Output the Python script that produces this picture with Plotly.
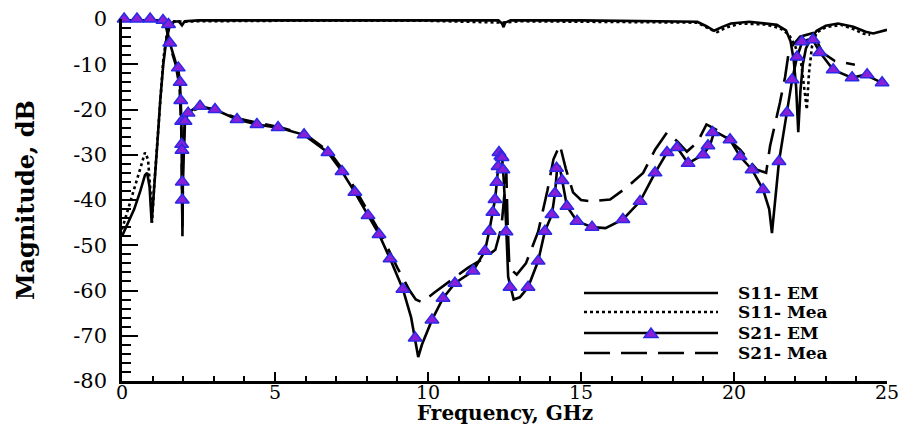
import plotly.graph_objects as go

# ---------------- data ----------------
s11_em_f = [0, 0.2, 0.4, 0.6, 0.75, 0.82, 0.9, 0.97, 1.05, 1.15, 1.25, 1.35, 1.45, 1.55, 1.7, 1.85,
            1.96, 2.05, 2.5, 5, 8, 10, 12.3, 12.42, 12.47, 12.52, 12.7, 15, 18.8, 19.1, 19.35, 19.6,
            19.9, 20.5, 21.0, 21.4, 21.7, 21.85, 21.95, 22.03, 22.1, 22.17, 22.25, 22.35, 22.5, 22.7,
            23.0, 23.4, 23.9, 24.3, 24.55, 24.8, 25.0]
s11_em_db = [-48, -45, -42, -38, -34.5, -34, -37, -45, -38, -28, -18, -10, -4.5, -1.8, -0.6, -0.5,
             -1.4, -0.5, -0.3, -0.3, -0.3, -0.3, -0.3, -1.0, -1.8, -0.8, -0.3, -0.3, -0.6, -1.6, -2.6, -1.8,
             -1.0, -0.6, -0.9, -1.3, -2.5, -5, -9, -15, -25, -16, -10, -6.5, -4.5, -2.6,
             -1.5, -1.0, -1.7, -2.8, -3.2, -2.7, -2.4]

s11_mea_f = [0, 0.2, 0.4, 0.6, 0.75, 0.85, 0.93, 0.98, 1.05, 1.15, 1.25, 1.35, 1.45, 1.55, 1.7, 2.0,
             2.5, 5, 10, 12.45, 13, 18.8, 19.2, 19.45, 19.7, 20.2, 21.0, 21.5, 21.8, 22.0, 22.2, 22.3,
             22.38, 22.45, 22.55, 22.7, 23.0, 23.5, 23.9, 24.2, 24.45]
s11_mea_db = [-46.5, -42, -38, -33, -29.5, -31, -38, -45, -37, -27, -17, -9, -4, -1.5, -0.5, -0.6,
              -0.5, -0.4, -0.4, -0.8, -0.5, -0.8, -2.2, -2.9, -2.0, -1.0, -1.2, -2.0, -3.5, -6, -10, -15,
              -20, -12, -6, -3, -1.8, -1.3, -2.2, -3.2, -3.5]

s21_em_f = [0, 0.5, 1.0, 1.3, 1.45, 1.55, 1.65, 1.75, 1.84, 1.9, 1.94, 1.96, 1.975, 1.99, 2.02, 2.06,
            2.16, 2.35, 2.55, 3.04, 3.76, 4.41, 5.1, 5.95, 6.73, 7.19, 7.61, 8.04, 8.4, 8.76, 9.18,
            9.45, 9.58, 9.68, 9.8, 10.13, 10.49, 10.88, 11.47, 11.86, 12.0, 12.12, 12.19, 12.25,
            12.29, 12.33, 12.42, 12.47, 12.55, 12.62, 12.8, 13.0, 13.27, 13.6, 13.82, 14.05, 14.15,
            14.22, 14.3, 14.38, 14.54, 14.87, 15.36, 15.8, 16.37, 16.93, 17.42, 17.81, 18.14, 18.5,
            18.99, 19.22, 19.35, 19.5, 19.87, 20.2, 20.59, 20.95, 21.15, 21.24, 21.35, 21.47, 21.6,
            21.73, 21.9, 22.06, 22.22, 22.4, 22.58, 22.8, 23.24, 23.86, 24.28, 24.84, 25.0]
s21_em_db = [-0.1, -0.1, -0.2, -0.4, -1.5, -5, -7.5, -9.5, -11, -15, -22, -35, -48, -35, -27, -22.6,
             -20.8, -19.8, -19.3, -20, -22.2, -23.3, -24, -25.6, -29.5, -33.7, -38.3, -43.4, -47.6, -53, -59.7,
             -66, -70.5, -74.7, -72, -66.5, -61.7, -58.4, -55.7, -51.3, -46.9, -42.7, -39.9, -36.1,
             -32.6, -29.5, -30.6, -35, -45, -57, -62, -61.5, -59.3, -53.5, -46.9, -43.2, -38.5,
             -33, -32.5, -35.7, -41.4, -44.7, -46, -46.2, -44.3, -40.3, -34, -29.5, -28.4, -31.9,
             -30, -27.8, -25, -25.3, -26.7, -30.4, -33.3, -37.7, -42, -47.3, -40, -31.5, -26,
             -20.7, -13.4, -8.4, -5.2, -4.6, -4.6, -7.3, -11.2, -13, -12.3, -14.1, -14.5]

s21_em_mark_f = [0.07, 0.49, 0.92, 1.34, 1.52, 1.56, 1.84, 1.9, 1.92, 1.95, 1.95, 1.96, 1.97, 1.97,
                 2.06, 2.16, 2.55, 3.04, 3.76, 4.41, 5.1, 5.95, 6.73, 7.19, 7.61, 8.04, 8.4, 8.76,
                 9.18, 9.58, 10.13, 10.49, 10.88, 11.47, 11.86, 12.0, 12.12, 12.19, 12.25, 12.29,
                 12.32, 12.38, 12.42, 12.45, 12.55, 12.68, 13.27, 13.6, 13.82, 14.05, 14.15, 14.2,
                 14.38, 14.54, 14.87, 15.36, 16.37, 16.93, 17.42, 17.81, 18.14, 18.5, 18.99, 19.15,
                 19.3, 19.87, 20.2, 20.59, 20.95, 21.47, 21.73, 21.9, 22.06, 22.22, 22.58, 22.8,
                 23.24, 23.86, 24.35, 24.84]
s21_em_mark_db = [0, 0, 0, -0.3, -1.2, -5.3, -10.8, -14, -18, -22.6, -27.7, -29, -36, -40,
                  -22.6, -20.8, -19.3, -20, -22.2, -23.3, -24, -25.6, -29.5, -33.7, -38.3, -43.4, -47.6, -53,
                  -59.7, -70.5, -66.5, -61.7, -58.4, -55.7, -51.3, -46.9, -42.7, -39.9, -36.1, -32.6,
                  -29.5, -30.3, -30.6, -33.3, -47, -59.3, -59.3, -53.5, -46.9, -43.2, -38.5, -33,
                  -35.7, -41.4, -44.7, -46, -44.3, -40.3, -34, -29.5, -28.4, -31.9, -30, -28,
                  -25.1, -26.7, -30.4, -33.3, -37.7, -31.5, -20.7, -13.4, -8.4, -5, -4.6, -7.4,
                  -11.2, -13, -12.3, -14.1]

s21_mea_f = [0, 1.3, 1.45, 1.55, 1.75, 1.88, 1.94, 1.975, 2.0, 2.05, 2.2, 2.6, 3.0, 3.8, 4.5, 5.2,
             6.0, 6.8, 7.4, 8.0, 8.5, 9.0, 9.4, 9.6, 9.8, 10.2, 10.7, 11.3, 11.8, 12.2, 12.4, 12.5,
             12.56, 12.6, 12.66, 12.9, 13.2, 13.6, 13.9, 14.1, 14.31, 14.5, 14.74, 15.0, 15.3, 15.95,
             16.5, 17.03, 17.42, 17.81, 18.14, 18.46, 18.8, 19.1, 19.54, 20.2, 20.75, 21.05, 21.18,
             21.5, 21.67, 21.8, 22.16, 22.58, 22.9, 23.3, 23.95]
s21_mea_db = [-0.2, -0.5, -2, -5.5, -10, -15, -25, -46, -30, -23, -20.5, -19.5, -20, -22, -23, -24,
              -25.5, -29.5, -35, -42, -48, -55, -60, -62, -62.6, -60.5, -58, -55, -53, -51, -46, -38,
              -34, -45, -55, -56.5, -54, -47, -38, -31, -27.8, -33, -38.3, -40, -40.3, -39.9,
              -37.2, -34, -28.9, -25.1, -27, -29.3, -27.3, -23.3, -24.9, -28.9, -33.3, -34, -28,
              -18.5, -12.8, -6.8, -3.9, -3.1, -7.5, -9.3, -10.1]

legend_names = ["S11- EM", "S11- Mea", "S21- EM", "S21- Mea"]
x_ticks = [0, 5, 10, 15, 20, 25]
y_ticks = [-80, -70, -60, -50, -40, -30, -20, -10, 0]

# ---------------- figure ----------------
FONT = "DejaVu Serif"
LW = 2.6
MARK_FILL = "#8a1fd8"
MARK_EDGE = "#2a2ae6"

fig = go.Figure()
fig.add_trace(go.Scatter(x=s11_em_f, y=s11_em_db, mode="lines", name=legend_names[0],
                         line=dict(color="black", width=LW), showlegend=False))
fig.add_trace(go.Scatter(x=s11_mea_f, y=s11_mea_db, mode="lines", name=legend_names[1],
                         line=dict(color="black", width=LW, dash="dot"), showlegend=False))
fig.add_trace(go.Scatter(x=s21_mea_f, y=s21_mea_db, mode="lines", name=legend_names[3],
                         line=dict(color="black", width=LW, dash="26px,11px"), showlegend=False))
fig.add_trace(go.Scatter(x=s21_em_f, y=s21_em_db, mode="lines", name=legend_names[2],
                         line=dict(color="black", width=LW), showlegend=False))
fig.add_trace(go.Scatter(x=s21_em_mark_f, y=s21_em_mark_db, mode="markers", name=legend_names[2],
                         marker=dict(symbol="triangle-up", size=12, color=MARK_FILL,
                                     line=dict(color=MARK_EDGE, width=1.5)),
                         cliponaxis=False, showlegend=False))

# ---- layout geometry (body margin removed by post_script) ----
W, H = 902, 425
PLOT_L, PLOT_R, PLOT_T, PLOT_B = 122, 887, 19, 381   # target plot box in the window
L, T, R, B = PLOT_L, PLOT_T, W - PLOT_R, H - PLOT_B
pw, ph = PLOT_R - PLOT_L, PLOT_B - PLOT_T


def px(xv):
    return (xv - PLOT_L) / pw


def py(yv):
    return (PLOT_B - yv) / ph


# ---- hand-drawn legend (long line samples like the original) ----
rows_y = [293, 312, 333, 353]
dashes = ["solid", "dot", "solid", "26px,11px"]
for name, yy, dsh in zip(legend_names, rows_y, dashes):
    fig.add_shape(type="line", xref="paper", yref="paper", x0=px(584), x1=px(718),
                  y0=py(yy), y1=py(yy), line=dict(color="black", width=LW, dash=dsh))
    fig.add_annotation(xref="paper", yref="paper", x=px(736), y=py(yy), xanchor="left",
                       yanchor="middle", text=f"<b>{name}</b>", showarrow=False,
                       font=dict(family=FONT, size=17, color="black"))
# legend triangle marker
cx, cy = 651, 333
tri = (f"M {px(cx - 7)} {py(cy + 4.5)} L {px(cx + 7)} {py(cy + 4.5)} "
       f"L {px(cx)} {py(cy - 5)} Z")
fig.add_shape(type="path", xref="paper", yref="paper", path=tri,
              fillcolor=MARK_FILL, line=dict(color=MARK_EDGE, width=1.5))

# axis titles
fig.add_annotation(xref="paper", yref="paper", x=0.5, y=0, yanchor="top", yshift=-18,
                   text="<b>Frequency, GHz</b>", showarrow=False,
                   font=dict(family=FONT, size=20, color="black"))
fig.add_annotation(xref="paper", yref="paper", x=px(25), y=0.5, xanchor="center",
                   yanchor="middle", textangle=-90, text="<b>Magnitude, dB</b>",
                   showarrow=False, font=dict(family=FONT, size=24, color="black"))

fig.update_xaxes(range=[0, 25], tickvals=x_ticks, ticktext=[str(v) for v in x_ticks],
                 ticks="inside", ticklen=9, tickwidth=2.2, tickcolor="black",
                 minor=dict(dtick=1, ticks="inside", ticklen=5, tickwidth=1.5, tickcolor="black"),
                 showline=True, linecolor="black", linewidth=2.6, showgrid=False, zeroline=False,
                 tickfont=dict(family=FONT, size=19, color="black"), ticklabelstandoff=-8,
                 ticklabeloverflow="allow", automargin=False)
fig.update_yaxes(range=[-80, 0], tickvals=y_ticks, ticktext=[str(v) for v in y_ticks],
                 ticks="inside", ticklen=16, tickwidth=2.2, tickcolor="black",
                 minor=dict(dtick=2, ticks="inside", ticklen=9, tickwidth=1.5, tickcolor="black"),
                 showline=True, linecolor="black", linewidth=2.6, showgrid=False, zeroline=False,
                 tickfont=dict(family=FONT, size=21, color="black"), ticklabelstandoff=8,
                 ticklabeloverflow="allow", automargin=False)

fig.update_layout(width=W, height=H, margin=dict(l=L, r=R, t=T, b=B, autoexpand=False),
                  paper_bgcolor="white", plot_bgcolor="white", showlegend=False)

fig.write_html("out.html", config={"displayModeBar": False},
               post_script="document.body.style.margin='0';document.body.style.overflow='hidden';")
